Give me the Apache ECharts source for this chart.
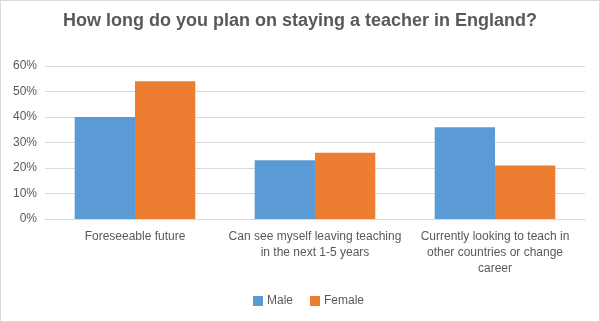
<!DOCTYPE html>
<html><head><meta charset="utf-8">
<script src="https://cdn.jsdelivr.net/npm/echarts@6/dist/echarts.min.js"></script>
<style>html,body{margin:0;padding:0;background:#fff}#c{width:598px;height:320px;border:1px solid #d9d9d9}</style>
</head><body><div id="c"></div>
<script>
const categories = ["Foreseeable future", "Can see myself leaving teaching\nin the next 1-5 years", "Currently looking to teach in\nother countries or change\ncareer"];
const male = [40, 23, 36];
const female = [54, 26, 21];
const yTicks = [0, 10, 20, 30, 40, 50, 60];
const chart = echarts.init(document.getElementById('c'), null, {renderer: 'canvas'});
const font = 'Liberation Sans';
chart.setOption({
  animation: false,
  title: {text: 'How long do you plan on staying a teacher in England?', left: 'center', top: 6,
    textStyle: {fontFamily: font, fontSize: 18, fontWeight: 'bold', color: '#595959'}},
  legend: {bottom: 9, left: 247, icon: 'rect', itemWidth: 10, itemHeight: 10, itemGap: 17,
    textStyle: {fontFamily: font, fontSize: 12, color: '#595959', padding: [0, 0, 0, -1]}, data: ['Male', 'Female']},
  grid: {left: 44, right: 14, top: 65, height: 153, containLabel: false},
  xAxis: {type: 'category', data: categories,
    axisLine: {lineStyle: {color: '#d9d9d9'}}, axisTick: {show: false},
    axisLabel: {fontFamily: font, fontSize: 12, color: '#595959', lineHeight: 16, margin: 10, interval: 0}},
  yAxis: {type: 'value', min: 0, max: 60, interval: 10,
    axisLabel: {fontFamily: font, fontSize: 12, color: '#595959', formatter: v => yTicks.includes(v) ? v + '%' : ''},
    axisLine: {show: false}, axisTick: {show: false},
    splitLine: {lineStyle: {color: '#d9d9d9'}}},
  series: [
    {name: 'Male', type: 'bar', data: male, barGap: '0%', barCategoryGap: '33%', itemStyle: {color: '#5b9bd5'}},
    {name: 'Female', type: 'bar', data: female, itemStyle: {color: '#ed7d31'}}
  ]
});
</script></body></html>
